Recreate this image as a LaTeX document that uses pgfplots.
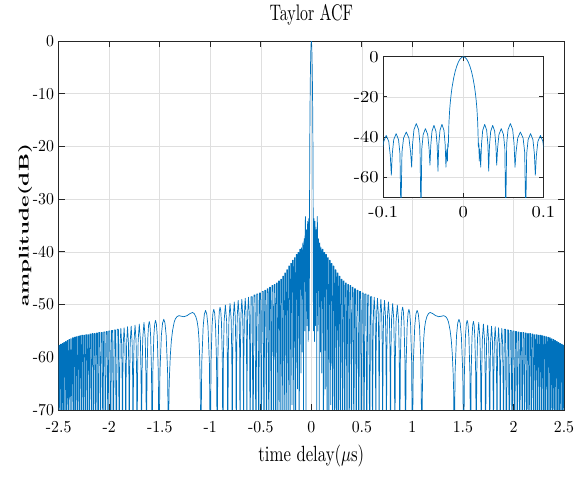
\documentclass[border=0pt]{standalone}
\usepackage{graphicx}
\usepackage{pgfplots}
\usepackage{pgfplotstable}
\pgfplotsset{compat=1.18}
\definecolor{mblue}{RGB}{0,114,189}
\definecolor{maxis}{RGB}{38,38,38}
\definecolor{mgrid}{RGB}{223,223,223}
\newcommand{\tk}[1]{\scalebox{1.58}[1.67]{#1}}
\newcommand{\tki}[1]{\scalebox{1.85}[1.67]{#1}}
% positive half of the ACF (the curve is symmetric in time delay)
\pgfplotstableread{
x y
0 0
0.002 -0.3
0.004 -1.1
0.006 -2.5
0.008 -4.5
0.010 -7.0
0.012 -10.5
0.014 -15.0
0.015 -18.0
0.016 -21.5
0.017 -26.0
0.018 -33.0
0.0185 -40.0
0.0188 -45.0
0.0191 -43.0
0.0195 -44.0
0.0199 -52.0
0.0204 -46.0
0.0210 -48.0
0.0217 -55.0
0.0227 -43.7
0.0242 -36.7
0.0267 -33.7
0.0292 -36.7
0.0307 -43.7
0.0317 -57.0
0.0327 -44.2
0.0342 -37.2
0.0367 -34.2
0.0392 -37.2
0.0407 -44.2
0.0417 -54.0
0.0428 -45.8
0.0445 -38.8
0.0474 -35.8
0.0502 -38.8
0.0519 -45.8
0.0530 -80
0.0542 -43.3
0.0559 -36.3
0.0588 -33.3
0.0617 -36.3
0.0634 -43.3
0.0646 -55.0
0.0659 -47.5
0.0680 -40.5
0.0713 -37.5
0.0747 -40.5
0.0767 -47.5
0.0780 -80
0.0792 -48.3
0.0810 -41.3
0.0840 -38.3
0.0870 -41.3
0.0888 -48.3
0.0900 -59.0
0.0913 -49.2
0.0932 -42.2
0.0964 -39.2
0.0995 -42.2
0.1014 -49.2
0.1027 -63
0.1079 -39.5
0.1148 -39.5
0.1200 -80
0.1253 -40.1
0.1323 -40.1
0.1375 -66
0.1428 -40.5
0.1500 -40.5
0.1553 -80
0.1607 -41.1
0.1680 -41.1
0.1734 -80
0.1789 -41.6
0.1863 -41.6
0.1918 -69
0.1974 -42.2
0.2049 -42.2
0.2105 -80
0.2162 -42.7
0.2238 -42.7
0.2295 -80
0.2354 -43.4
0.2432 -43.4
0.2490 -80
0.2549 -44.0
0.2629 -44.0
0.2688 -80
0.2749 -44.6
0.2829 -44.6
0.2890 -80
0.2952 -45.2
0.3034 -45.2
0.3096 -80
0.3159 -45.5
0.3244 -45.5
0.3307 -80
0.3372 -45.9
0.3458 -45.9
0.3523 -80
0.3589 -46.2
0.3678 -46.2
0.3744 -80
0.3812 -46.4
0.3903 -46.4
0.3971 -80
0.4041 -46.7
0.4134 -46.7
0.4204 -80
0.4276 -47.0
0.4372 -47.0
0.4444 -80
0.4518 -47.3
0.4617 -47.3
0.4691 -80
0.4768 -47.5
0.4870 -47.5
0.4946 -80
0.5025 -47.8
0.5131 -47.8
0.5210 -80
0.5292 -48.0
0.5402 -48.0
0.5484 -80
0.5570 -48.2
0.5684 -48.2
0.5769 -80
0.5858 -48.5
0.5977 -48.5
0.6066 -80
0.6097 -58.6
0.6144 -51.6
0.6222 -48.6
0.6300 -51.6
0.6347 -58.6
0.6378 -80
0.6411 -58.8
0.6460 -51.8
0.6542 -48.8
0.6624 -51.8
0.6673 -58.8
0.6706 -80
0.6741 -59.0
0.6793 -52.0
0.6880 -49.0
0.6967 -52.0
0.7019 -59.0
0.7054 -80
0.7091 -59.2
0.7147 -52.2
0.7240 -49.2
0.7333 -52.2
0.7389 -59.2
0.7426 -80
0.7466 -59.5
0.7526 -52.5
0.7626 -49.5
0.7726 -52.5
0.7786 -59.5
0.7826 -80
0.7870 -59.8
0.7936 -52.8
0.8045 -49.8
0.8155 -52.8
0.8220 -59.8
0.8264 -80
0.8313 -60.1
0.8386 -53.1
0.8508 -50.1
0.8630 -53.1
0.8703 -60.1
0.8752 -80
0.8808 -60.5
0.8892 -53.5
0.8962 -51.2
0.9033 -50.5
0.9103 -51.2
0.9173 -53.5
0.9257 -60.5
0.9313 -80
0.9381 -60.9
0.9483 -53.9
0.9568 -51.6
0.9653 -50.9
0.9738 -51.6
0.9823 -53.9
0.9925 -60.9
0.9993 -80
1.0088 -61.1
1.0230 -54.1
1.0348 -51.8
1.0467 -51.1
1.0585 -51.8
1.0703 -54.1
1.0845 -61.1
1.0940 -80
1.0990 -66
1.1050 -60
1.1120 -56.5
1.1200 -54.5
1.1300 -53.2
1.1430 -52.3
1.1590 -51.7
1.1760 -51.5
1.2000 -51.7
1.2300 -52.1
1.2600 -52.3
1.2900 -52.2
1.3100 -52.1
1.3300 -52.3
1.3450 -52.7
1.3570 -53.3
1.3730 -54.9
1.3850 -56.8
1.3950 -59.5
1.4040 -63.5
1.4090 -67
1.4130 -80
1.4225 -62.8
1.4367 -55.8
1.4485 -53.5
1.4604 -52.8
1.4722 -53.5
1.4840 -55.8
1.4982 -62.8
1.5077 -80
1.5145 -63.0
1.5247 -56.0
1.5332 -53.7
1.5417 -53.0
1.5502 -53.7
1.5587 -56.0
1.5689 -63.0
1.5757 -80
1.5813 -63.2
1.5897 -56.2
1.5967 -53.9
1.6038 -53.2
1.6108 -53.9
1.6178 -56.2
1.6262 -63.2
1.6318 -80
1.6367 -63.4
1.6440 -56.4
1.6562 -53.4
1.6684 -56.4
1.6757 -63.4
1.6806 -80
1.6850 -63.7
1.6916 -56.7
1.7025 -53.7
1.7135 -56.7
1.7200 -63.7
1.7244 -80
1.7284 -63.9
1.7344 -56.9
1.7444 -53.9
1.7544 -56.9
1.7604 -63.9
1.7644 -80
1.7681 -64.1
1.7737 -57.1
1.7830 -54.1
1.7923 -57.1
1.7979 -64.1
1.8016 -80
1.8051 -64.2
1.8103 -57.2
1.8190 -54.2
1.8277 -57.2
1.8329 -64.2
1.8364 -80
1.8397 -64.4
1.8446 -57.4
1.8528 -54.4
1.8610 -57.4
1.8659 -64.4
1.8692 -80
1.8723 -64.5
1.8770 -57.5
1.8848 -54.5
1.8926 -57.5
1.8973 -64.5
1.9004 -80
1.9093 -54.7
1.9212 -54.7
1.9301 -80
1.9387 -54.8
1.9501 -54.8
1.9586 -80
1.9668 -54.9
1.9778 -54.9
1.9860 -80
1.9939 -55.0
2.0045 -55.0
2.0124 -80
2.0201 -55.1
2.0303 -55.1
2.0379 -80
2.0453 -55.2
2.0552 -55.2
2.0626 -80
2.0698 -55.3
2.0794 -55.3
2.0866 -80
2.0936 -55.3
2.1029 -55.3
2.1099 -80
2.1167 -55.4
2.1258 -55.4
2.1326 -80
2.1392 -55.5
2.1481 -55.5
2.1547 -80
2.1612 -55.5
2.1698 -55.5
2.1763 -80
2.1826 -55.6
2.1911 -55.6
2.1974 -80
2.2036 -55.7
2.2118 -55.7
2.2180 -80
2.2241 -55.7
2.2321 -55.7
2.2382 -80
2.2441 -55.8
2.2521 -55.8
2.2580 -80
2.2639 -55.8
2.2717 -55.8
2.2775 -80
2.2832 -55.9
2.2908 -55.9
2.2965 -80
2.3021 -56.0
2.3096 -56.0
2.3152 -80
2.3207 -56.1
2.3281 -56.1
2.3336 -80
2.3390 -56.2
2.3463 -56.2
2.3517 -80
2.3570 -56.3
2.3642 -56.3
2.3695 -80
2.3748 -56.5
2.3818 -56.5
2.3870 -80
2.3922 -56.6
2.3991 -56.6
2.4043 -80
2.4094 -56.8
2.4162 -56.8
2.4213 -80
2.4263 -57.0
2.4330 -57.0
2.4380 -80
2.4430 -57.2
2.4496 -57.2
2.4545 -80
2.4594 -57.4
2.4659 -57.4
2.4708 -80
2.4756 -57.5
2.4821 -57.5
2.4869 -80
2.4916 -57.7
2.4980 -57.7
2.5027 -80
}\acf

\begin{document}
\begin{tikzpicture}
\useasboundingbox (0,0) rectangle (586pt,479pt);
\begin{axis}[
  at={(58.7pt,69pt)}, anchor=south west,
  scale only axis, width=505.3pt, height=369pt,
  xmin=-2.5, xmax=2.5, ymin=-70, ymax=0,
  xtick={-2.5,-2,-1.5,-1,-0.5,0,0.5,1,1.5,2,2.5},
  xticklabels={\tk{-2.5},\tk{-2},\tk{-1.5},\tk{-1},\tk{-0.5},\tk{0},\tk{0.5},\tk{1},\tk{1.5},\tk{2},\tk{2.5}},
  ytick={-70,-60,-50,-40,-30,-20,-10,0},
  yticklabels={\tk{-70},\tk{-60},\tk{-50},\tk{-40},\tk{-30},\tk{-20},\tk{-10},\tk{0}},
  tick pos=both, tick align=inside, major tick length=6pt,
  xmajorgrids, ymajorgrids,
  grid style={mgrid, line width=0.6pt},
  axis line style={maxis, line width=0.8pt},
  tick style={maxis, line width=0.8pt},
  ticklabel style={text=black},
  xticklabel style={inner sep=0pt, anchor=north, yshift=-11.5pt},
  yticklabel style={inner sep=0pt, anchor=east, xshift=-4.5pt},
  title={\scalebox{1.59}[2.25]{Taylor ACF}},
  title style={at={(axis description cs:0.5,1.0556)}, anchor=center, inner sep=0pt},
  xlabel={\scalebox{1.67}[2.2]{time delay($\mu$s)}},
  xlabel style={at={(axis description cs:0.5,-0.1247)}, anchor=center, inner sep=0pt},
  ylabel={\scalebox{2.2}[1.4]{\textbf{amplitude(dB)}}},
  ylabel style={at={(axis description cs:-0.0667,0.5)}, anchor=center, inner sep=0pt},
]
\addplot[mblue, line width=0.7pt, line join=round] table[x=x, y=y] {\acf};
\addplot[mblue, line width=0.7pt, line join=round] table[x expr=-\thisrow{x}, y=y] {\acf};
\end{axis}
\begin{axis}[
  at={(383.3pt,281.7pt)}, anchor=south west,
  scale only axis, width=160pt, height=140.6pt,
  xmin=-0.1, xmax=0.1, ymin=-70, ymax=0,
  axis background/.style={fill=white},
  xtick={-0.1,0,0.1},
  xticklabels={\tki{-0.1},\tki{0},\tki{0.1}},
  ytick={-60,-40,-20,0},
  yticklabels={\tki{-60},\tki{-40},\tki{-20},\tki{0}},
  tick pos=both, tick align=inside, major tick length=4pt,
  xmajorgrids, ymajorgrids,
  grid style={mgrid, line width=0.6pt},
  axis line style={maxis, line width=0.8pt},
  tick style={maxis, line width=0.8pt},
  ticklabel style={text=black},
  xticklabel style={inner sep=0pt, anchor=north, yshift=-9pt},
  yticklabel style={inner sep=0pt, anchor=east, xshift=-4.5pt},
]
\addplot[mblue, line width=0.7pt, line join=round] table[x=x, y=y] {\acf};
\addplot[mblue, line width=0.7pt, line join=round] table[x expr=-\thisrow{x}, y=y] {\acf};
\end{axis}
\end{tikzpicture}
\end{document}
